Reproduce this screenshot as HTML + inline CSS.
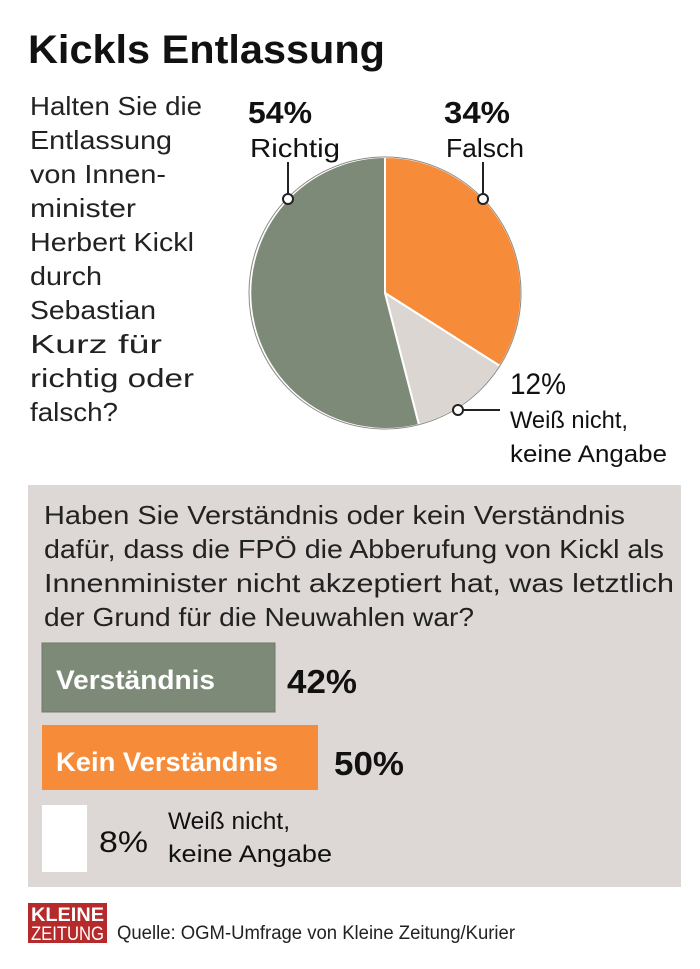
<!DOCTYPE html>
<html><head><meta charset="utf-8"><style>
html,body{margin:0;padding:0;background:#fff;}
svg{display:block;font-family:"Liberation Sans",sans-serif;}
</style></head><body>
<svg width="700" height="969" viewBox="0 0 700 969" xmlns="http://www.w3.org/2000/svg">
<rect width="700" height="969" fill="#fff"/>
<text x="28" y="63" font-size="40" font-weight="bold" fill="#111" textLength="357" lengthAdjust="spacingAndGlyphs">Kickls Entlassung</text>
<g font-size="26" fill="#222">
<text x="30" y="115" textLength="172" lengthAdjust="spacingAndGlyphs">Halten Sie die</text>
<text x="30" y="149" textLength="142" lengthAdjust="spacingAndGlyphs">Entlassung</text>
<text x="30" y="183" textLength="136" lengthAdjust="spacingAndGlyphs">von Innen-</text>
<text x="30" y="217" textLength="106" lengthAdjust="spacingAndGlyphs">minister</text>
<text x="30" y="251" textLength="164" lengthAdjust="spacingAndGlyphs">Herbert Kickl</text>
<text x="30" y="285" textLength="72" lengthAdjust="spacingAndGlyphs">durch</text>
<text x="30" y="319" textLength="126" lengthAdjust="spacingAndGlyphs">Sebastian</text>
<text x="30" y="353" textLength="132" lengthAdjust="spacingAndGlyphs">Kurz für</text>
<text x="30" y="387" textLength="164" lengthAdjust="spacingAndGlyphs">richtig oder</text>
<text x="30" y="421" textLength="88" lengthAdjust="spacingAndGlyphs">falsch?</text>
</g>
<path d="M385,293 L385,157 A136,136 0 0 1 500,366 Z" fill="#f68c3a" stroke="#fff" stroke-width="2"/>
<path d="M385,293 L500,366 A136,136 0 0 1 419,425 Z" fill="#dcd6d2" stroke="#fff" stroke-width="2"/>
<path d="M385,293 L419,425 A136,136 0 1 1 385,157 Z" fill="#7d8a78" stroke="#fff" stroke-width="2"/>
<circle cx="385" cy="293" r="136" fill="none" stroke="#8a8a85" stroke-width="1"/>
<text x="248" y="123" font-size="31" font-weight="bold" fill="#111" textLength="64" lengthAdjust="spacingAndGlyphs">54%</text>
<text x="250" y="157" font-size="26" fill="#111" textLength="90" lengthAdjust="spacingAndGlyphs">Richtig</text>
<line x1="288" y1="162" x2="288" y2="196" stroke="#222" stroke-width="2"/>
<circle cx="288" cy="199" r="5" fill="#fff" stroke="#222" stroke-width="2"/>
<text x="444" y="123" font-size="31" font-weight="bold" fill="#111" textLength="66" lengthAdjust="spacingAndGlyphs">34%</text>
<text x="446" y="157" font-size="26" fill="#111" textLength="78" lengthAdjust="spacingAndGlyphs">Falsch</text>
<line x1="483" y1="162" x2="483" y2="196" stroke="#222" stroke-width="2"/>
<circle cx="483" cy="199" r="5" fill="#fff" stroke="#222" stroke-width="2"/>
<text x="510" y="394" font-size="30" fill="#111" textLength="56" lengthAdjust="spacingAndGlyphs">12%</text>
<line x1="463" y1="410" x2="500" y2="410" stroke="#222" stroke-width="2"/>
<circle cx="458" cy="410" r="5" fill="#fff" stroke="#222" stroke-width="2"/>
<text x="510" y="428" font-size="24" fill="#111" textLength="118" lengthAdjust="spacingAndGlyphs">Weiß nicht,</text>
<text x="510" y="462" font-size="24" fill="#111" textLength="157" lengthAdjust="spacingAndGlyphs">keine Angabe</text>
<rect x="28" y="485" width="653" height="402" fill="#ddd8d5"/>
<g font-size="26" fill="#222">
<text x="44" y="524" textLength="581" lengthAdjust="spacingAndGlyphs">Haben Sie Verständnis oder kein Verständnis</text>
<text x="44" y="558" textLength="620" lengthAdjust="spacingAndGlyphs">dafür, dass die FPÖ die Abberufung von Kickl als</text>
<text x="44" y="592" textLength="630" lengthAdjust="spacingAndGlyphs">Innenminister nicht akzeptiert hat, was letztlich</text>
<text x="44" y="626" textLength="430" lengthAdjust="spacingAndGlyphs">der Grund für die Neuwahlen war?</text>
</g>
<rect x="42" y="643" width="233" height="69" fill="#7d8a78" stroke="#6e7a6a" stroke-width="1"/>
<text x="56" y="689" font-size="27" font-weight="bold" fill="#fff" textLength="159" lengthAdjust="spacingAndGlyphs">Verständnis</text>
<text x="287" y="693" font-size="33" font-weight="bold" fill="#111" textLength="70" lengthAdjust="spacingAndGlyphs">42%</text>
<rect x="42" y="725" width="276" height="65" fill="#f68c3a"/>
<text x="56" y="771" font-size="27" font-weight="bold" fill="#fff" textLength="222" lengthAdjust="spacingAndGlyphs">Kein Verständnis</text>
<text x="334" y="775" font-size="33" font-weight="bold" fill="#111" textLength="70" lengthAdjust="spacingAndGlyphs">50%</text>
<rect x="42" y="805" width="45" height="67" fill="#fff"/>
<text x="99" y="852" font-size="30" fill="#111" textLength="49" lengthAdjust="spacingAndGlyphs">8%</text>
<text x="168" y="829" font-size="24" fill="#111" textLength="122" lengthAdjust="spacingAndGlyphs">Weiß nicht,</text>
<text x="168" y="862" font-size="24" fill="#111" textLength="164" lengthAdjust="spacingAndGlyphs">keine Angabe</text>
<rect x="28" y="903" width="79" height="40" fill="#b52a2a"/>
<text x="31" y="921" font-size="19" font-weight="bold" fill="#fff" textLength="73" lengthAdjust="spacingAndGlyphs">KLEINE</text>
<text x="31" y="940" font-size="19" fill="#fff" textLength="73" lengthAdjust="spacingAndGlyphs">ZEITUNG</text>
<text x="117" y="939" font-size="19" fill="#222" textLength="398" lengthAdjust="spacingAndGlyphs">Quelle: OGM-Umfrage von Kleine Zeitung/Kurier</text>
</svg>
</body></html>
